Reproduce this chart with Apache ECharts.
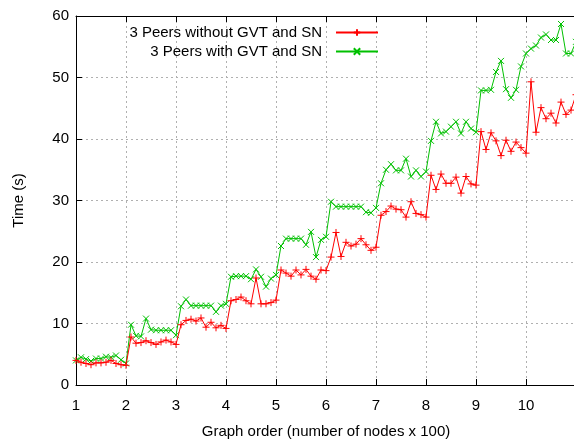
<!DOCTYPE html>
<html>
<head>
<meta charset="utf-8">
<script src="https://cdn.jsdelivr.net/npm/echarts@6/dist/echarts.min.js"></script>
<style>
  html, body { margin: 0; padding: 0; background: #fff; }
  #chart { width: 574px; height: 444px; }
</style>
</head>
<body>
<div id="chart"></div>
<script>
// Graph order (hundreds of nodes)
const orders = [
  1.0, 1.1, 1.2, 1.3, 1.4, 1.5, 1.6, 1.7, 1.8, 1.9,
  2.0, 2.1, 2.2, 2.3, 2.4, 2.5, 2.6, 2.7, 2.8, 2.9,
  3.0, 3.1, 3.2, 3.3, 3.4, 3.5, 3.6, 3.7, 3.8, 3.9,
  4.0, 4.1, 4.2, 4.3, 4.4, 4.5, 4.6, 4.7, 4.8, 4.9,
  5.0, 5.1, 5.2, 5.3, 5.4, 5.5, 5.6, 5.7, 5.8, 5.9,
  6.0, 6.1, 6.2, 6.3, 6.4, 6.5, 6.6, 6.7, 6.8, 6.9,
  7.0, 7.1, 7.2, 7.3, 7.4, 7.5, 7.6, 7.7, 7.8, 7.9,
  8.0, 8.1, 8.2, 8.3, 8.4, 8.5, 8.6, 8.7, 8.8, 8.9,
  9.0, 9.1, 9.2, 9.3, 9.4, 9.5, 9.6, 9.7, 9.8, 9.9,
  10.0, 10.1, 10.2, 10.3, 10.4, 10.5, 10.6, 10.7, 10.8, 10.9,
  11.0
];

// Time (s), 3 peers without GVT and SN
const timeWithout = [
  4.0, 3.7, 3.5, 3.3, 3.6, 3.6, 3.7, 4.0, 3.5, 3.3,
  3.2, 7.8, 6.8, 6.9, 7.2, 6.9, 6.6, 7.0, 7.3, 7.0,
  6.6, 9.8, 10.5, 10.7, 10.4, 10.9, 9.4, 10.2, 9.3, 9.7,
  9.2, 13.7, 13.9, 14.3, 13.7, 13.2, 17.4, 13.2, 13.2, 13.4,
  13.8, 18.7, 18.2, 17.7, 18.7, 17.9, 18.8, 17.7, 17.2, 18.7,
  18.6, 20.8, 24.8, 20.9, 23.2, 22.6, 22.9, 23.8, 22.8, 21.9,
  22.4, 27.6, 28.2, 29.1, 28.6, 28.5, 27.3, 29.8, 27.9, 27.7,
  27.3, 34.1, 31.8, 34.3, 32.8, 32.8, 33.8, 31.2, 33.9, 32.7,
  32.5, 41.2, 38.3, 41.0, 39.7, 37.3, 39.8, 38.0, 39.5, 38.6,
  37.7, 49.3, 41.1, 45.1, 43.3, 44.2, 42.6, 46.0, 44.0, 44.7,
  47.2
];

// Time (s), 3 peers with GVT and SN
const timeWith = [
  4.0, 4.5, 4.2, 3.9, 4.3, 4.3, 4.6, 4.5, 4.8, 4.1,
  3.5, 9.8, 8.0, 7.9, 10.8, 9.0, 8.9, 8.9, 8.9, 8.9,
  8.1, 12.8, 13.9, 12.9, 12.9, 12.9, 12.9, 12.9, 11.9, 12.9,
  13.2, 17.6, 17.7, 17.7, 17.7, 17.2, 18.8, 17.6, 16.0, 17.3,
  17.9, 22.6, 23.8, 23.8, 23.8, 23.8, 22.8, 24.9, 20.8, 23.6,
  24.1, 29.8, 29.0, 29.0, 29.0, 29.0, 29.0, 29.0, 28.1, 28.0,
  28.8, 32.8, 35.0, 35.9, 34.9, 34.9, 36.8, 33.9, 34.9, 33.9,
  34.7, 39.7, 42.8, 40.9, 41.2, 42.0, 42.8, 40.9, 42.8, 41.7,
  41.1, 47.9, 47.9, 48.0, 50.9, 52.7, 48.1, 46.7, 48.0, 51.8,
  53.9, 54.7, 55.2, 56.5, 57.0, 56.1, 56.1, 58.7, 53.9, 53.9,
  55.8
];

const seriesNames = ['3 Peers without GVT and SN', '3 Peers with GVT and SN'];
const xTicks = [1, 2, 3, 4, 5, 6, 7, 8, 9, 10];
const yTicks = [0, 10, 20, 30, 40, 50, 60];

const FONT = '"Liberation Sans", Arial, sans-serif';
const FS = 15;
const RED = '#ff0000';
const GREEN = '#00c000';
const PLUS = 'path://M5,0L5,10M0,5L10,5';
const CROSS = 'path://M0,0L10,10M10,0L0,10';

const pairs = (ys) => orders.map((x, i) => [x, ys[i]]);

const gridLine = { show: true, lineStyle: { color: '#b0b0b0', width: 1, type: [2, 3] } };

const legendBox = (name, top) => ({
  data: [name], orient: 'vertical', align: 'right',
  right: 195, top: top, itemWidth: 42, itemHeight: 8, padding: 0,
  textStyle: { fontFamily: FONT, fontSize: FS, color: '#000', padding: [0, 9, 0, 0] },
  selectedMode: false
});

const chart = echarts.init(document.getElementById('chart'), null, { renderer: 'canvas' });
chart.setOption({
  animation: false,
  backgroundColor: '#fff',
  textStyle: { fontFamily: FONT },
  grid: { left: 76, right: -2, top: 16, bottom: 59, outerBoundsMode: 'none', containLabel: false },
  legend: [legendBox(seriesNames[0], 25), legendBox(seriesNames[1], 44)],
  xAxis: [
    {
      type: 'value', position: 'bottom', min: 1, max: 11, interval: 1,
      name: 'Graph order (number of nodes x 100)', nameLocation: 'middle', nameGap: 39,
      nameTextStyle: { fontFamily: FONT, fontSize: FS, color: '#000' },
      axisLine: { show: true, onZero: false, lineStyle: { color: '#000', width: 1 } },
      axisTick: { show: true, inside: true, length: 6, lineStyle: { color: '#000' } },
      axisLabel: {
        fontFamily: FONT, fontSize: FS, color: '#000', margin: 13,
        formatter: (v) => (xTicks.includes(v) ? String(v) : '')
      },
      splitLine: gridLine
    },
    {
      type: 'value', position: 'top', min: 1, max: 11, interval: 1,
      axisLine: { show: true, onZero: false, lineStyle: { color: '#000', width: 1 } },
      axisTick: { show: true, inside: true, length: 6, lineStyle: { color: '#000' } },
      axisLabel: { show: false },
      splitLine: { show: false }
    }
  ],
  yAxis: {
    type: 'value', min: 0, max: 60, interval: 10,
    name: 'Time (s)', nameLocation: 'middle', nameGap: 50, nameRotate: 90,
    nameTextStyle: { fontFamily: FONT, fontSize: FS, color: '#000' },
    axisLine: { show: true, lineStyle: { color: '#000', width: 1 } },
    axisTick: { show: true, inside: true, length: 6, lineStyle: { color: '#000' } },
    axisLabel: {
      fontFamily: FONT, fontSize: FS, color: '#000', margin: 7,
      formatter: (v) => (yTicks.includes(v) ? String(v) : '')
    },
    splitLine: gridLine
  },
  series: [
    {
      name: seriesNames[0], type: 'line', xAxisIndex: 0,
      data: pairs(timeWithout),
      symbol: PLUS, symbolSize: 7, showAllSymbol: true,
      lineStyle: { color: RED, width: 1 },
      itemStyle: { color: RED, borderColor: RED, borderWidth: 1 },
      emphasis: { disabled: true }, z: 3
    },
    {
      name: seriesNames[1], type: 'line', xAxisIndex: 0,
      data: pairs(timeWith),
      symbol: CROSS, symbolSize: 6, showAllSymbol: true,
      lineStyle: { color: GREEN, width: 1 },
      itemStyle: { color: GREEN, borderColor: GREEN, borderWidth: 1 },
      emphasis: { disabled: true }, z: 2
    }
  ]
});
</script>
</body>
</html>
